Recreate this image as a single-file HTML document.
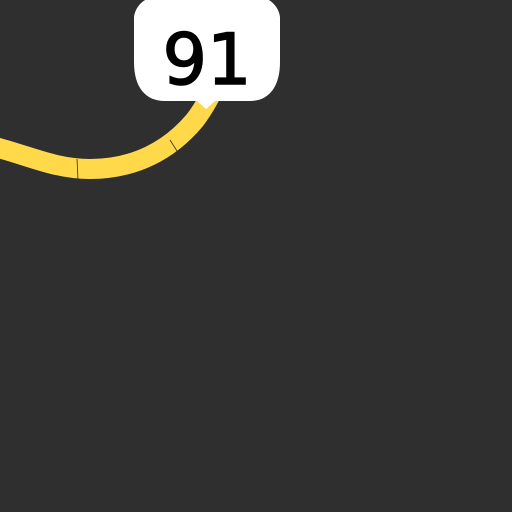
<!DOCTYPE html>
<html><head><style>html,body{margin:0;padding:0;background:#2f2f2f;}svg{display:block}</style></head>
<body>
<svg width="512" height="512" viewBox="0 0 512 512">
<rect width="512" height="512" fill="#2f2f2f"/>
<path d="M-5,147 C30,156 55,169 90,169 C135,169 170,150 195,120 C218,90 232,45 250,-5" fill="none" stroke="#ffd94a" stroke-width="20"/>
<line x1="77" y1="159" x2="78" y2="180" stroke="#2f2f2f" stroke-width="0.8"/>
<line x1="170" y1="140" x2="177" y2="151" stroke="#2f2f2f" stroke-width="0.8"/>
<path d="M150,-2 L264,-2 C272,0 279,8 280,17 L280,62 C280,88 268,101 250,101 L215,101 L206,109 L197,101 L165,101 C146,101 134,88 134,62 L134,17 C135,8 142,0 150,-2 Z" fill="#ffffff"/>
<text x="207" y="84" text-anchor="middle" font-family="DejaVu Sans, Liberation Sans, sans-serif" font-size="70" fill="#000" stroke="#000" stroke-width="1.5">91</text>
</svg>
</body></html>
